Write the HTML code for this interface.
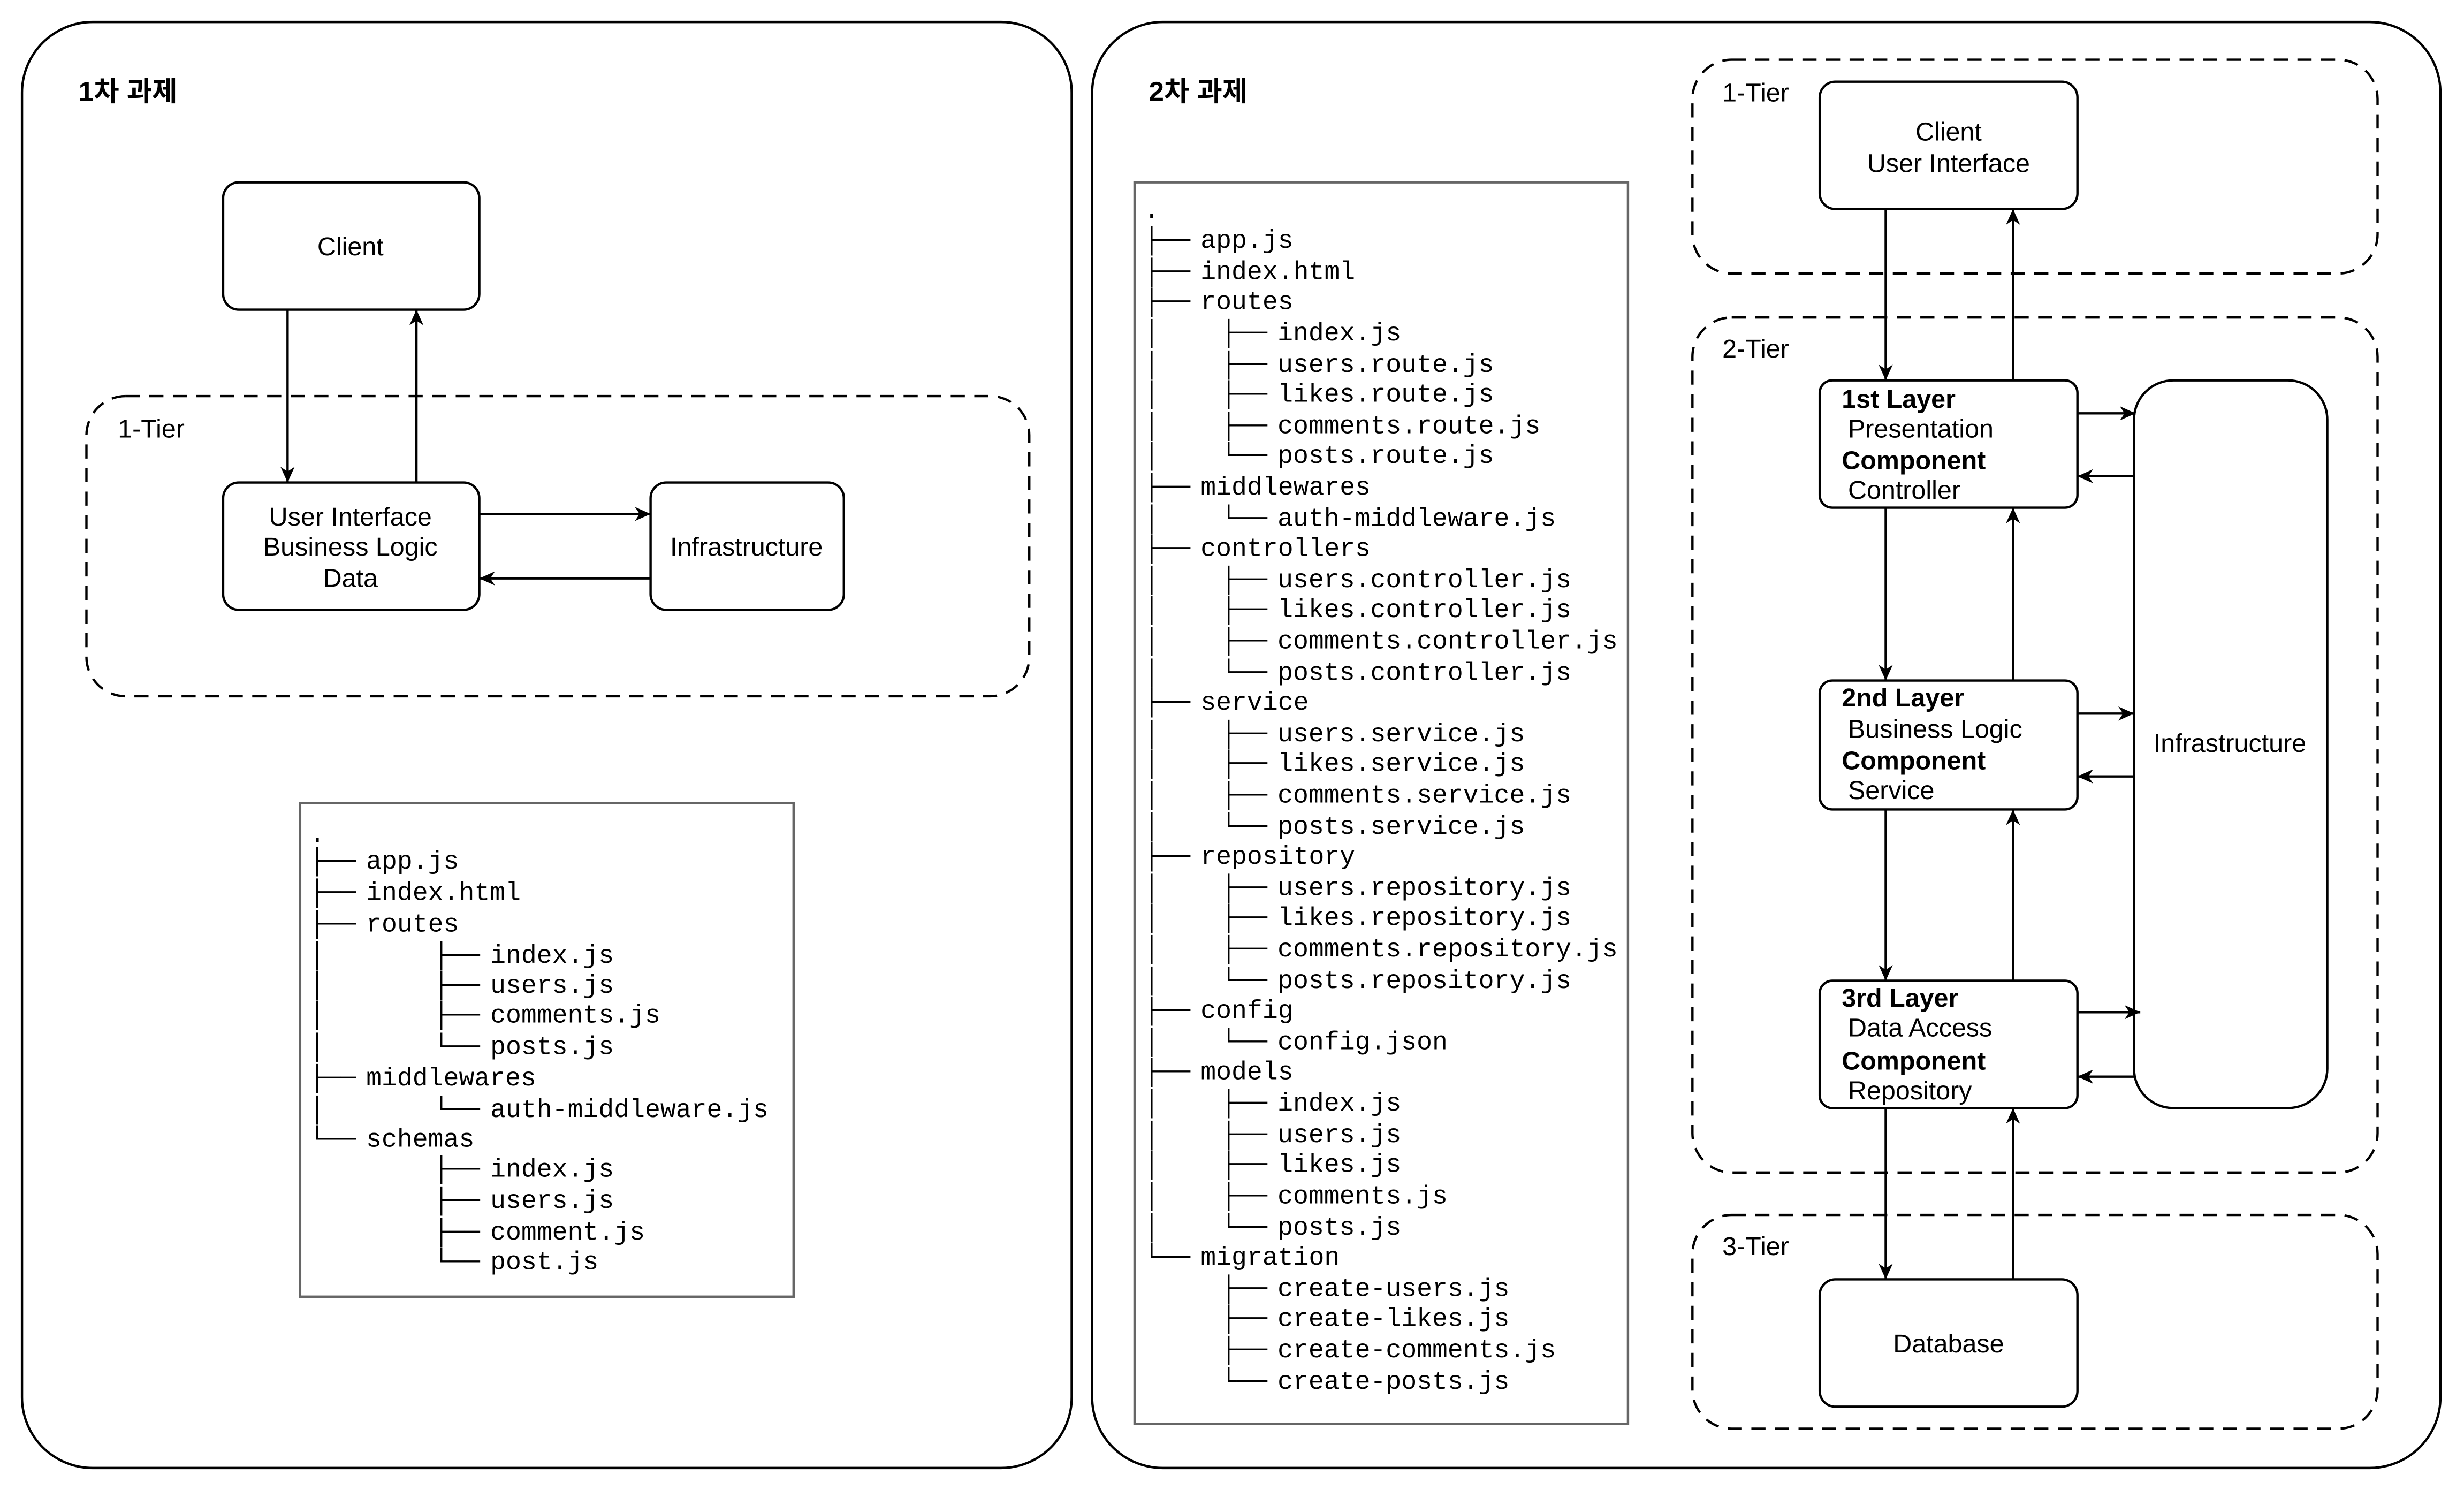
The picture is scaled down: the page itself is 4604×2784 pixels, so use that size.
<!DOCTYPE html>
<html><head><meta charset="utf-8"><style>
html,body{margin:0;padding:0;background:#fff}
svg{display:block}
text{font-family:"Liberation Sans","Noto Sans CJK KR",sans-serif;font-size:16.5px;fill:#000;dominant-baseline:central}
.m{font-family:"Liberation Mono",monospace;font-size:16.4px}
.b{font-weight:bold}
.t{font-size:17.5px}
</style></head><body>
<svg width="4604" height="2784" viewBox="0 0 1568 948" preserveAspectRatio="none" xmlns="http://www.w3.org/2000/svg">
<defs><marker id="a" viewBox="0 0 10 10" refX="10" refY="5" markerWidth="10" markerHeight="10" markerUnits="userSpaceOnUse" orient="auto"><path d="M0,0.5 L10,5 L0,9.5 L3,5 Z" fill="#000"/></marker></defs>
<g fill="none" stroke="#000" stroke-width="1.5">
<rect x="14" y="14" width="668" height="920" rx="45"/>
<rect x="695" y="14" width="858" height="920" rx="45"/>
<rect x="55" y="252" width="600" height="191" rx="25" stroke-dasharray="9 6"/>
<rect x="142" y="116" width="163" height="81" rx="10"/>
<rect x="142" y="307" width="163" height="81" rx="10"/>
<rect x="414" y="307" width="123" height="81" rx="10"/>
<rect x="1077" y="38" width="436" height="136" rx="25" stroke-dasharray="9 6"/>
<rect x="1077" y="202" width="436" height="544" rx="25" stroke-dasharray="9 6"/>
<rect x="1077" y="773" width="436" height="136" rx="25" stroke-dasharray="9 6"/>
<rect x="1158" y="52" width="164" height="81" rx="10"/>
<rect x="1158" y="242" width="164" height="81" rx="8"/>
<rect x="1158" y="433" width="164" height="82" rx="8"/>
<rect x="1158" y="624" width="164" height="81" rx="8"/>
<rect x="1358" y="242" width="123" height="463" rx="25"/>
<rect x="1158" y="814" width="164" height="81" rx="10"/>
<rect x="191" y="511" width="314" height="314" stroke="#666"/>
<rect x="722" y="116" width="314" height="790" stroke="#666"/>
</g>
<g stroke="#000" stroke-width="1.5" marker-end="url(#a)">
<line x1="183" y1="197" x2="183" y2="307"/>
<line x1="265" y1="307" x2="265" y2="197"/>
<line x1="305" y1="327" x2="414" y2="327"/>
<line x1="414" y1="368" x2="305" y2="368"/>
<line x1="1200" y1="133" x2="1200" y2="242"/>
<line x1="1281" y1="242" x2="1281" y2="133"/>
<line x1="1200" y1="323" x2="1200" y2="433"/>
<line x1="1281" y1="433" x2="1281" y2="323"/>
<line x1="1200" y1="515" x2="1200" y2="624"/>
<line x1="1281" y1="624" x2="1281" y2="515"/>
<line x1="1200" y1="705" x2="1200" y2="814"/>
<line x1="1281" y1="814" x2="1281" y2="705"/>
<line x1="1322" y1="263" x2="1359" y2="263"/>
<line x1="1358" y1="303" x2="1322" y2="303"/>
<line x1="1322" y1="454" x2="1358" y2="454"/>
<line x1="1358" y1="494" x2="1322" y2="494"/>
<line x1="1322" y1="644" x2="1362" y2="644"/>
<line x1="1358" y1="685" x2="1322" y2="685"/>
</g>
<text x="50" y="58" class="b t">1차 과제</text>
<text x="731" y="58" class="b t">2차 과제</text>
<text x="75" y="273">1-Tier</text>
<text x="1096" y="59">1-Tier</text>
<text x="1096" y="222">2-Tier</text>
<text x="1096" y="793">3-Tier</text>
<g text-anchor="middle">
<text x="223" y="157">Client</text>
<text x="223" y="329">User Interface</text>
<text x="223" y="348">Business Logic</text>
<text x="223" y="368">Data</text>
<text x="475" y="348">Infrastructure</text>
<text x="1240" y="84">Client</text>
<text x="1240" y="104">User Interface</text>
<text x="1419" y="473">Infrastructure</text>
<text x="1240" y="855">Database</text>
</g>
<text x="1172" y="254" class="b">1st Layer</text><text x="1176" y="273">Presentation</text><text x="1172" y="293" class="b">Component</text><text x="1176" y="312">Controller</text>
<text x="1172" y="444" class="b">2nd Layer</text><text x="1176" y="464">Business Logic</text><text x="1172" y="484" class="b">Component</text><text x="1176" y="503">Service</text>
<text x="1172" y="635" class="b">3rd Layer</text><text x="1176" y="654">Data Access</text><text x="1172" y="675" class="b">Component</text><text x="1176" y="694">Repository</text>
<g transform="translate(0,1.5)">
<text class="m" x="197" y="530">.</text>
<text class="m" x="197" y="547">├──</text><text class="m" x="233" y="547">app.js</text>
<text class="m" x="197" y="567">├──</text><text class="m" x="233" y="567">index.html</text>
<text class="m" x="197" y="587">├──</text><text class="m" x="233" y="587">routes</text>
<text class="m" x="197" y="607">│</text><text class="m" x="276" y="607">├──</text><text class="m" x="312" y="607">index.js</text>
<text class="m" x="197" y="626">│</text><text class="m" x="276" y="626">├──</text><text class="m" x="312" y="626">users.js</text>
<text class="m" x="197" y="645">│</text><text class="m" x="276" y="645">├──</text><text class="m" x="312" y="645">comments.js</text>
<text class="m" x="197" y="665">│</text><text class="m" x="276" y="665">└──</text><text class="m" x="312" y="665">posts.js</text>
<text class="m" x="197" y="685">├──</text><text class="m" x="233" y="685">middlewares</text>
<text class="m" x="197" y="705">│</text><text class="m" x="276" y="705">└──</text><text class="m" x="312" y="705">auth-middleware.js</text>
<text class="m" x="197" y="724">└──</text><text class="m" x="233" y="724">schemas</text>
<text class="m" x="276" y="743">├──</text><text class="m" x="312" y="743">index.js</text>
<text class="m" x="276" y="763">├──</text><text class="m" x="312" y="763">users.js</text>
<text class="m" x="276" y="783">├──</text><text class="m" x="312" y="783">comment.js</text>
<text class="m" x="276" y="802">└──</text><text class="m" x="312" y="802">post.js</text>
</g>
<g transform="translate(0,1.5)">
<text class="m" x="728" y="133">.</text>
<text class="m" x="728" y="152">├──</text><text class="m" x="764" y="152">app.js</text>
<text class="m" x="728" y="172">├──</text><text class="m" x="764" y="172">index.html</text>
<text class="m" x="728" y="191">├──</text><text class="m" x="764" y="191">routes</text>
<text class="m" x="728" y="211">│</text><text class="m" x="777" y="211">├──</text><text class="m" x="813" y="211">index.js</text>
<text class="m" x="728" y="231">│</text><text class="m" x="777" y="231">├──</text><text class="m" x="813" y="231">users.route.js</text>
<text class="m" x="728" y="250">│</text><text class="m" x="777" y="250">├──</text><text class="m" x="813" y="250">likes.route.js</text>
<text class="m" x="728" y="270">│</text><text class="m" x="777" y="270">├──</text><text class="m" x="813" y="270">comments.route.js</text>
<text class="m" x="728" y="289">│</text><text class="m" x="777" y="289">└──</text><text class="m" x="813" y="289">posts.route.js</text>
<text class="m" x="728" y="309">├──</text><text class="m" x="764" y="309">middlewares</text>
<text class="m" x="728" y="329">│</text><text class="m" x="777" y="329">└──</text><text class="m" x="813" y="329">auth-middleware.js</text>
<text class="m" x="728" y="348">├──</text><text class="m" x="764" y="348">controllers</text>
<text class="m" x="728" y="368">│</text><text class="m" x="777" y="368">├──</text><text class="m" x="813" y="368">users.controller.js</text>
<text class="m" x="728" y="387">│</text><text class="m" x="777" y="387">├──</text><text class="m" x="813" y="387">likes.controller.js</text>
<text class="m" x="728" y="407">│</text><text class="m" x="777" y="407">├──</text><text class="m" x="813" y="407">comments.controller.js</text>
<text class="m" x="728" y="427">│</text><text class="m" x="777" y="427">└──</text><text class="m" x="813" y="427">posts.controller.js</text>
<text class="m" x="728" y="446">├──</text><text class="m" x="764" y="446">service</text>
<text class="m" x="728" y="466">│</text><text class="m" x="777" y="466">├──</text><text class="m" x="813" y="466">users.service.js</text>
<text class="m" x="728" y="485">│</text><text class="m" x="777" y="485">├──</text><text class="m" x="813" y="485">likes.service.js</text>
<text class="m" x="728" y="505">│</text><text class="m" x="777" y="505">├──</text><text class="m" x="813" y="505">comments.service.js</text>
<text class="m" x="728" y="525">│</text><text class="m" x="777" y="525">└──</text><text class="m" x="813" y="525">posts.service.js</text>
<text class="m" x="728" y="544">├──</text><text class="m" x="764" y="544">repository</text>
<text class="m" x="728" y="564">│</text><text class="m" x="777" y="564">├──</text><text class="m" x="813" y="564">users.repository.js</text>
<text class="m" x="728" y="583">│</text><text class="m" x="777" y="583">├──</text><text class="m" x="813" y="583">likes.repository.js</text>
<text class="m" x="728" y="603">│</text><text class="m" x="777" y="603">├──</text><text class="m" x="813" y="603">comments.repository.js</text>
<text class="m" x="728" y="623">│</text><text class="m" x="777" y="623">└──</text><text class="m" x="813" y="623">posts.repository.js</text>
<text class="m" x="728" y="642">├──</text><text class="m" x="764" y="642">config</text>
<text class="m" x="728" y="662">│</text><text class="m" x="777" y="662">└──</text><text class="m" x="813" y="662">config.json</text>
<text class="m" x="728" y="681">├──</text><text class="m" x="764" y="681">models</text>
<text class="m" x="728" y="701">│</text><text class="m" x="777" y="701">├──</text><text class="m" x="813" y="701">index.js</text>
<text class="m" x="728" y="721">│</text><text class="m" x="777" y="721">├──</text><text class="m" x="813" y="721">users.js</text>
<text class="m" x="728" y="740">│</text><text class="m" x="777" y="740">├──</text><text class="m" x="813" y="740">likes.js</text>
<text class="m" x="728" y="760">│</text><text class="m" x="777" y="760">├──</text><text class="m" x="813" y="760">comments.js</text>
<text class="m" x="728" y="780">│</text><text class="m" x="777" y="780">└──</text><text class="m" x="813" y="780">posts.js</text>
<text class="m" x="728" y="799">└──</text><text class="m" x="764" y="799">migration</text>
<text class="m" x="777" y="819">├──</text><text class="m" x="813" y="819">create-users.js</text>
<text class="m" x="777" y="838">├──</text><text class="m" x="813" y="838">create-likes.js</text>
<text class="m" x="777" y="858">├──</text><text class="m" x="813" y="858">create-comments.js</text>
<text class="m" x="777" y="878">└──</text><text class="m" x="813" y="878">create-posts.js</text>
</g>
</svg>
</body></html>
